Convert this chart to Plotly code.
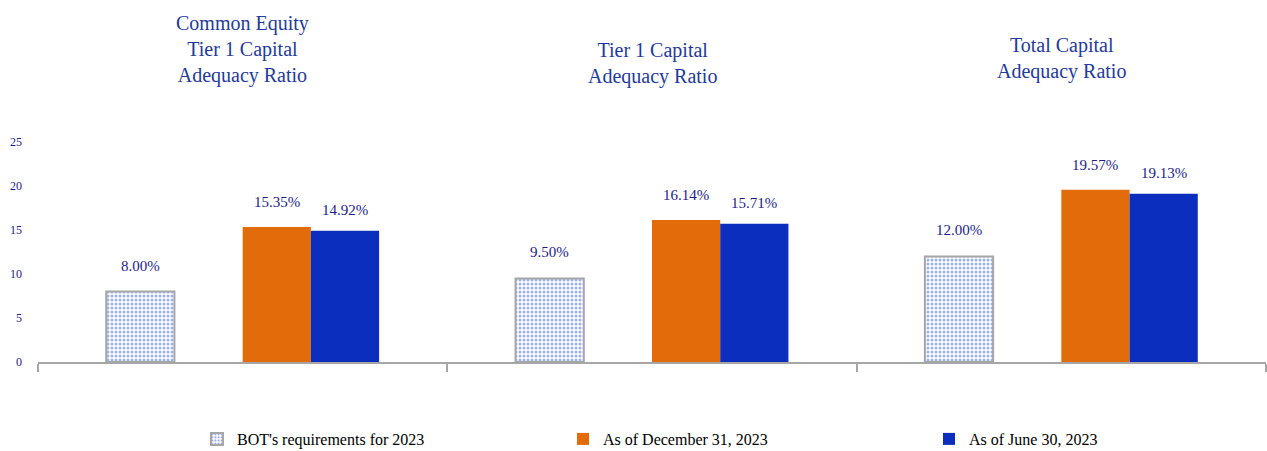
import plotly.graph_objects as go

categories = ["Common Equity<br>Tier 1 Capital<br>Adequacy Ratio",
              "Tier 1 Capital<br>Adequacy Ratio",
              "Total Capital<br>Adequacy Ratio"]
series_names = ["BOT's requirements for 2023", "As of December 31, 2023", "As of June 30, 2023"]
bot_req = [8.00, 9.50, 12.00]
dec_2023 = [15.35, 16.14, 19.57]
jun_2023 = [14.92, 15.71, 19.13]
y_ticks = [0, 5, 10, 15, 20, 25]

TITLE_COLOR = "#1f3a9a"
LABEL_COLOR = "#1c1c8a"
FONT = "Liberation Serif, Times New Roman, serif"

fig = go.Figure()
fig.add_trace(go.Bar(
    x=categories, y=bot_req, name=series_names[0],
    offset=-1/3, width=1/6,
    marker=dict(color="white",
                pattern=dict(shape=".", fgcolor="#3366dd", bgcolor="white", size=4, solidity=0.45),
                line=dict(color="#a6a6a6", width=2)),
))
fig.add_trace(go.Bar(
    x=categories, y=dec_2023, name=series_names[1],
    offset=0, width=1/6,
    marker=dict(color="#e36c0a", line=dict(width=0)),
))
fig.add_trace(go.Bar(
    x=categories, y=jun_2023, name=series_names[2],
    offset=1/6, width=1/6,
    marker=dict(color="#0c2ebf", line=dict(width=0)),
))

annotations = []
offsets = [-1/4, 1/12, 1/4]
shifts = [26, 25, 21]
for vals, off, sh in zip([bot_req, dec_2023, jun_2023], offsets, shifts):
    for i, v in enumerate(vals):
        annotations.append(dict(
            x=i + off, y=v, xref="x", yref="y", text=f"{v:.2f}%",
            showarrow=False, yshift=sh, yanchor="middle",
            font=dict(family=FONT, size=15, color=LABEL_COLOR)))

title_y = [1.4227, 1.357, 1.3795]
for i, (c, ty) in enumerate(zip(categories, title_y)):
    annotations.append(dict(
        x=i, y=ty, xref="x", yref="paper", text=c, showarrow=False,
        yanchor="middle", align="center",
        font=dict(family=FONT, size=20, color=TITLE_COLOR)))

fig.update_layout(
    width=1267, height=451,
    margin=dict(l=38, r=1, t=142, b=89, autoexpand=False),
    paper_bgcolor="white", plot_bgcolor="white",
    barmode="overlay",
    font=dict(family=FONT, color=LABEL_COLOR),
    annotations=annotations,
    showlegend=True,
    legend=dict(orientation="h", xref="container", x=746 / 1267, xanchor="center",
                yref="container", y=1 - 439 / 451, yanchor="middle",
                font=dict(family=FONT, size=16, color="#000000"),
                entrywidth=321, entrywidthmode="pixels",
                traceorder="normal"),
    xaxis=dict(type="category", range=[-0.5, 2.5], showline=True, linecolor="#a6a6a6",
               linewidth=1.5, ticks="outside", tickson="boundaries", ticklen=8,
               tickcolor="#a6a6a6", tickwidth=1.5, showticklabels=False, showgrid=False,
               zeroline=False, fixedrange=True),
    yaxis=dict(range=[0, 25], tickvals=y_ticks, showgrid=False, zeroline=False, showline=False,
               ticks="", ticklabelstandoff=15,
               tickfont=dict(family=FONT, size=12, color=LABEL_COLOR), fixedrange=True),
)

fig.write_html("out.html", config={"displayModeBar": False},
               post_script="document.body.style.margin='0';")
